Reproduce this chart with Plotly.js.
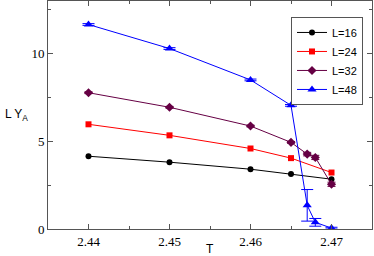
<!DOCTYPE html>
<html><head><meta charset="utf-8">
<script src="https://cdn.plot.ly/plotly-3.0.1.min.js"></script>
<style>body{margin:0;padding:0;background:#fff}#c{width:374px;height:256px}</style>
</head><body><div id="c"></div>
<script>
var T16 = [2.44, 2.45, 2.46, 2.465, 2.47];
var Y16 = [4.15, 3.81, 3.41, 3.14, 2.84];
var T24 = [2.44, 2.45, 2.46, 2.465, 2.47];
var Y24 = [5.97, 5.34, 4.59, 4.04, 3.22];
var T32 = [2.44, 2.45, 2.46, 2.465, 2.467, 2.468, 2.47];
var Y32 = [7.77, 6.94, 5.87, 4.94, 4.27, 4.08, 2.55];
var E32 = [0.05, 0.05, 0.05, 0.05, 0.1, 0.12, 0.12];
var T48 = [2.44, 2.45, 2.46, 2.465, 2.467, 2.468, 2.47];
var Y48 = [11.66, 10.29, 8.50, 7.05, 1.35, 0.38, 0.05];
var E48 = [0.05, 0.05, 0.05, 0.05, 0.9, 0.22, 0.05];
var names = ['L=16', 'L=24', 'L=32', 'L=48'];

var tr = [
 {x:T16, y:Y16, name:names[0], mode:'lines+markers', line:{color:'#000000', width:1},
  marker:{symbol:'circle', size:6, color:'#000000'}},
 {x:T24, y:Y24, name:names[1], mode:'lines+markers', line:{color:'#ff0000', width:1},
  marker:{symbol:'square', size:6, color:'#ff0000'}},
 {x:T32, y:Y32, name:names[2], mode:'lines+markers', line:{color:'#660044', width:1},
  marker:{symbol:'diamond', size:7, color:'#660044'},
  error_y:{type:'data', array:E32, visible:true, color:'#660044', thickness:1, width:4}},
 {x:T48, y:Y48, name:names[3], mode:'lines+markers', line:{color:'#0000ff', width:1},
  marker:{symbol:'triangle-up', size:8, color:'#0000ff'},
  error_y:{type:'data', array:E48, visible:true, color:'#0000ff', thickness:1, width:6}}
];

var ax = {showgrid:false, zeroline:false, showline:true, mirror:'ticks', linecolor:'#555',
  linewidth:1, ticks:'inside', ticklen:5, tickcolor:'#555',
  tickfont:{family:'Liberation Serif, Times New Roman, serif', size:13, color:'#000'}};

var layout = {
  width:374, height:256, margin:{l:48, r:2, t:1, b:27},
  paper_bgcolor:'#fff', plot_bgcolor:'#fff',
  showlegend:true,
  xaxis:Object.assign({}, ax, {range:[2.435, 2.475], tickvals:[2.44,2.45,2.46,2.47],
     ticktext:['2.44','2.45','2.46','2.47'],
     minor:{tickvals:[2.445,2.455,2.465], ticks:'inside', ticklen:3, tickcolor:'#555'}}),
  yaxis:Object.assign({}, ax, {range:[0, 13], tickvals:[0,5,10],
     minor:{tickvals:[2.5,7.5,12.5], ticks:'inside', ticklen:3, tickcolor:'#555'}}),
  legend:{x:0.75, y:0.93, xanchor:'left', yanchor:'top', bgcolor:'#fff',
     bordercolor:'#555', borderwidth:1, tracegroupgap:0,
     font:{family:'Liberation Sans, Arial, sans-serif', size:11, color:'#000'}, itemwidth:30},
  annotations:[
    {text:'T', xref:'paper', yref:'paper', x:0.5, y:-0.05, xanchor:'center', yanchor:'top',
     showarrow:false, font:{family:'Liberation Sans, Arial, sans-serif', size:12, color:'#000'}},
    {text:'L Y<sub>A</sub>', xref:'paper', yref:'paper', x:-0.139, y:0.5, xanchor:'left', yanchor:'middle',
     showarrow:false, font:{family:'Liberation Sans, Arial, sans-serif', size:12, color:'#000'}}
  ]
};
Plotly.newPlot('c', tr, layout, {displayModeBar:false, staticPlot:true});
</script></body></html>
